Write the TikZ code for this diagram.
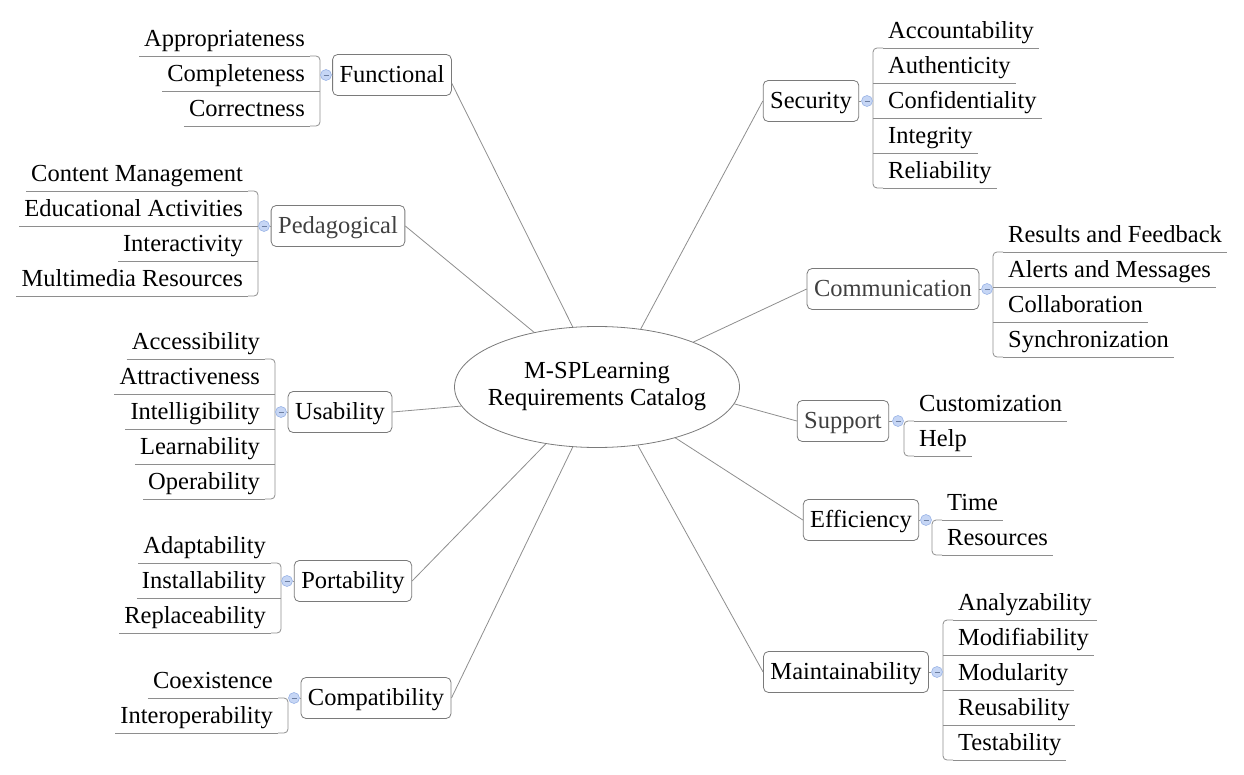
\documentclass[tikz,border=0pt]{standalone}
\usepackage{fontspec}
\setmainfont{Liberation Serif}
\usetikzlibrary{shapes.geometric}

\definecolor{linegray}{HTML}{8E8E8E}
\definecolor{boxgray}{HTML}{7A7A7A}
\definecolor{togglefill}{HTML}{C6D6F5}
\definecolor{toggledraw}{HTML}{9AB4E6}
\definecolor{textgray}{HTML}{404040}

\begin{document}
\begin{tikzpicture}[x=1pt, y=-1pt,
        font=\fontsize{24.5}{27}\selectfont,
        branch/.style={draw=linegray, line width=0.8pt},
        root/.style={ellipse, draw=boxgray, line width=0.8pt, minimum width=285pt, minimum height=121pt, inner xsep=-20pt, inner ysep=0pt, align=center},
        cat/.style={draw=boxgray, line width=0.8pt, rounded corners=5pt, inner xsep=7pt, inner ysep=9.5pt, text height=18.5pt, text depth=3.5pt},
        catgray/.style={cat, text=textgray},
        leafL/.style={anchor=south east, inner xsep=5pt, inner ysep=4pt, text height=17pt, text depth=5pt},
        leafR/.style={leafL, anchor=south west},
        toggle/.style={circle, fill=togglefill, draw=toggledraw, line width=0.6pt, minimum size=11pt, inner sep=0pt,
            path picture={\draw[toggledraw!70!black, line width=0.6pt] ([xshift=-2.5pt]path picture bounding box.center) -- ([xshift=2.5pt]path picture bounding box.center);}}]
        \useasboundingbox (0,0) rectangle (1244,775);

        \node[root] (root) at (597,387) {M-SPLearning\\Requirements Catalog};

        % left side
        \node[cat] (fun) at (392,75) {Functional};
        \node[catgray] (ped) at (338,226) {Pedagogical};
        \node[cat] (usa) at (340,412) {Usability};
        \node[cat] (por) at (353,581) {Portability};
        \node[cat] (com) at (376,698) {Compatibility};
        % right side
        \node[cat] (sec) at (811,101) {Security};
        \node[catgray] (cmm) at (893,289) {Communication};
        \node[catgray] (sup) at (843,421) {Support};
        \node[cat] (eff) at (861,520) {Efficiency};
        \node[cat] (mai) at (846,672) {Maintainability};

        \draw[branch] (root.112) -- (fun.-8);
        \draw[branch] (root.139) -- (ped.east);
        \draw[branch] (root.188) -- (usa.east);
        \draw[branch] (root.228) -- (por.east);
        \draw[branch] (root.248) -- (com.east);
        \draw[branch] (root.53) -- (sec.west);
        \draw[branch] (root.25) -- (cmm.west);
        \draw[branch] (root.353) -- (sup.west);
        \draw[branch] (root.327) -- (eff.west);
        \draw[branch] (root.305) -- (mai.west);

        % Functional
        \foreach \t [count=\i] in {Appropriateness,Completeness,Correctness}
            \node[leafL] (fun\i) at (310,21+35*\i) {\t};
        \foreach \i in {1,...,3} \draw[branch] (fun\i.south west) -- (fun\i.south east);
        \draw[branch, rounded corners=4pt] (fun1.south east) -- ++(10,0) |- (fun3.south east);
        \draw[branch] (fun2.south east) -- ++(10,0);
        \node[toggle] (funT) at (326,75) {};
        \draw[branch] (funT) -- (fun);

        % Pedagogical
        \foreach \t [count=\i] in {Content Management,Educational Activities,Interactivity,Multimedia Resources}
            \node[leafL] (ped\i) at (248,156+35*\i) {\t};
        \foreach \i in {1,...,4} \draw[branch] (ped\i.south west) -- (ped\i.south east);
        \draw[branch, rounded corners=4pt] (ped1.south east) -- ++(10,0) |- (ped4.south east);
        \foreach \i in {2,3} \draw[branch] (ped\i.south east) -- ++(10,0);
        \node[toggle] (pedT) at (264,226) {};
        \draw[branch] (pedT) -- (ped);

        % Usability
        \foreach \t [count=\i] in {Accessibility,Attractiveness,Intelligibility,Learnability,Operability}
            \node[leafL] (usa\i) at (265,324+35*\i) {\t};
        \foreach \i in {1,...,5} \draw[branch] (usa\i.south west) -- (usa\i.south east);
        \draw[branch, rounded corners=4pt] (usa1.south east) -- ++(10,0) |- (usa5.south east);
        \foreach \i in {2,3,4} \draw[branch] (usa\i.south east) -- ++(10,0);
        \node[toggle] (usaT) at (281,412) {};
        \draw[branch] (usaT) -- (usa);

        % Portability
        \foreach \t [count=\i] in {Adaptability,Installability,Replaceability}
            \node[leafL] (por\i) at (271,528+35*\i) {\t};
        \foreach \i in {1,...,3} \draw[branch] (por\i.south west) -- (por\i.south east);
        \draw[branch, rounded corners=4pt] (por1.south east) -- ++(10,0) |- (por3.south east);
        \draw[branch] (por2.south east) -- ++(10,0);
        \node[toggle] (porT) at (287,581) {};
        \draw[branch] (porT) -- (por);

        % Compatibility
        \foreach \t [count=\i] in {Coexistence,Interoperability}
            \node[leafL] (com\i) at (278,663+35*\i) {\t};
        \foreach \i in {1,2} \draw[branch] (com\i.south west) -- (com\i.south east);
        \draw[branch, rounded corners=4pt] (com1.south east) -- ++(10,0) |- (com2.south east);
        \node[toggle] (comT) at (294,698) {};
        \draw[branch] (comT) -- (com);

        % Security
        \foreach \t [count=\i] in {Accountability,Authenticity,Confidentiality,Integrity,Reliability}
            \node[leafR] (sec\i) at (883,13+35*\i) {\t};
        \foreach \i in {1,...,5} \draw[branch] (sec\i.south west) -- (sec\i.south east);
        \draw[branch, rounded corners=4pt] (sec1.south west) -- ++(-10,0) |- (sec5.south west);
        \foreach \i in {2,3,4} \draw[branch] (sec\i.south west) -- ++(-10,0);
        \node[toggle] (secT) at (867,101) {};
        \draw[branch] (secT) -- (sec);

        % Communication
        \foreach \t [count=\i] in {Results and Feedback,Alerts and Messages,Collaboration,Synchronization}
            \node[leafR] (cmm\i) at (1003,217+35*\i) {\t};
        \foreach \i in {1,...,4} \draw[branch] (cmm\i.south west) -- (cmm\i.south east);
        \draw[branch, rounded corners=4pt] (cmm1.south west) -- ++(-10,0) |- (cmm4.south west);
        \foreach \i in {2,3} \draw[branch] (cmm\i.south west) -- ++(-10,0);
        \node[toggle] (cmmT) at (987,289) {};
        \draw[branch] (cmmT) -- (cmm);

        % Support
        \foreach \t [count=\i] in {Customization,Help}
            \node[leafR] (sup\i) at (914,386+35*\i) {\t};
        \foreach \i in {1,2} \draw[branch] (sup\i.south west) -- (sup\i.south east);
        \draw[branch, rounded corners=4pt] (sup1.south west) -- ++(-10,0) |- (sup2.south west);
        \node[toggle] (supT) at (898,421) {};
        \draw[branch] (supT) -- (sup);

        % Efficiency
        \foreach \t [count=\i] in {Time,Resources}
            \node[leafR] (eff\i) at (942,485+35*\i) {\t};
        \foreach \i in {1,2} \draw[branch] (eff\i.south west) -- (eff\i.south east);
        \draw[branch, rounded corners=4pt] (eff1.south west) -- ++(-10,0) |- (eff2.south west);
        \node[toggle] (effT) at (926,520) {};
        \draw[branch] (effT) -- (eff);

        % Maintainability
        \foreach \t [count=\i] in {Analyzability,Modifiability,Modularity,Reusability,Testability}
            \node[leafR] (mai\i) at (953,585+35*\i) {\t};
        \foreach \i in {1,...,5} \draw[branch] (mai\i.south west) -- (mai\i.south east);
        \draw[branch, rounded corners=4pt] (mai1.south west) -- ++(-10,0) |- (mai5.south west);
        \foreach \i in {2,3,4} \draw[branch] (mai\i.south west) -- ++(-10,0);
        \node[toggle] (maiT) at (937,672) {};
        \draw[branch] (maiT) -- (mai);
    \end{tikzpicture}
\end{document}
